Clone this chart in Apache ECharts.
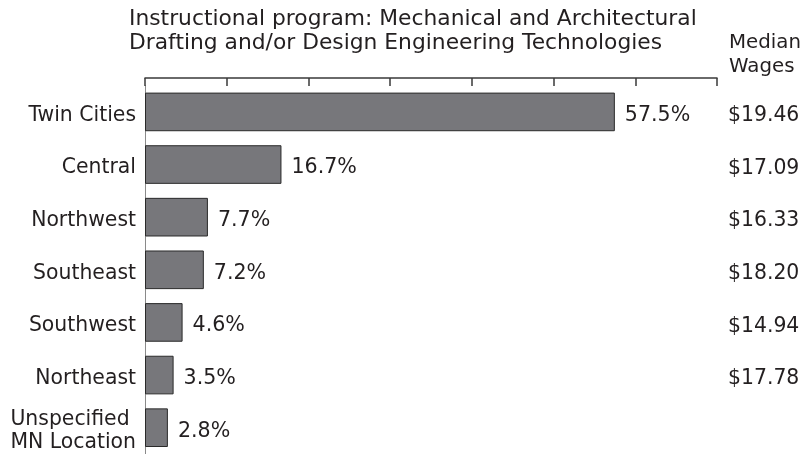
<!DOCTYPE html>
<html><head><meta charset="utf-8">
<script src="https://cdn.jsdelivr.net/npm/echarts@6/dist/echarts.min.js"></script>
<style>html,body{margin:0;padding:0;background:#fff}#c{width:804px;height:454px}</style>
</head><body><div id="c"></div>
<script>
const categories = ['Twin Cities','Central','Northwest','Southeast','Southwest','Northeast','Unspecified\nMN Location'];
const shares = [57.5, 16.7, 7.7, 7.2, 4.6, 3.5, 2.8];
const wages = ['$19.46','$17.09','$16.33','$18.20','$14.94','$17.78',''];
const titleText = 'Instructional program: Mechanical and Architectural\nDrafting and/or Design Engineering Technologies';
const wageHeader = 'Median\nWages';

const FONT = 'DejaVu Sans';
const TXT = '#231f20';
const chart = echarts.init(document.getElementById('c'), null, {renderer:'canvas'});
chart.setOption({
  animation: false,
  backgroundColor: '#fff',
  textStyle: {fontFamily: FONT},
  title: [
    {text: titleText, left: 129, top: 7, padding: 0, textStyle:{fontFamily:FONT, fontSize:21.8, fontWeight:'normal', color:TXT, lineHeight:24}},
    {text: wageHeader, left: 729, top: 31, padding: 0, textStyle:{fontFamily:FONT, fontSize:19.8, fontWeight:'normal', color:TXT, lineHeight:24}}
  ],
  grid: {left: 145, top: 85.6, width: 572, height: 372.2, containLabel: false},
  xAxis: {
    type: 'value', position: 'top', min: 0, max: 70, interval: 10, offset: 7.5,
    axisLine: {show: true, lineStyle: {color: '#3a3a3a', width: 1.5}},
    axisTick: {show: true, inside: true, length: 8, lineStyle: {color: '#3a3a3a', width: 1.5}},
    axisLabel: {show: false},
    splitLine: {show: false}
  },
  yAxis: [
    {
      type: 'category', data: categories, inverse: true,
      axisLine: {show: true, lineStyle: {color: '#8a8a8a', width: 1}},
      axisTick: {show: false},
      axisLabel: {
        margin: 9, fontFamily: FONT, fontSize: 20.4, color: TXT, lineHeight: 23,
        padding: [7, 0, 0, 0],
        formatter: function(v){
          if (v.indexOf('\n') >= 0) return v.split('\n').map(s => '{l|' + s + '}').join('\n');
          return v;
        },
        rich: {l: {align: 'left', fontFamily: FONT, fontSize: 20.4, color: TXT, lineHeight: 23}}
      }
    },
    {
      type: 'category', data: wages, inverse: true, position: 'right',
      axisLine: {show: false}, axisTick: {show: false},
      axisLabel: {margin: 11, fontFamily: FONT, fontSize: 20.4, color: TXT,
        formatter: v => v ? '{w|' + v + '}' : '',
        rich: {w: {fontFamily: FONT, fontSize: 20.4, color: TXT, padding: [8, 0, 0, 0]}}}
    }
  ],
  series: [{
    type: 'bar', data: shares, yAxisIndex: 0, barCategoryGap: '26.6%',
    itemStyle: {color: '#77777b', borderColor: '#2a2a2a', borderWidth: 1},
    label: {show: true, position: 'right', distance: 10, offset: [0, 3.5], fontFamily: FONT, fontSize: 20.6, color: TXT,
      formatter: p => p.value.toFixed(1) + '%'}
  }]
});
</script></body></html>
